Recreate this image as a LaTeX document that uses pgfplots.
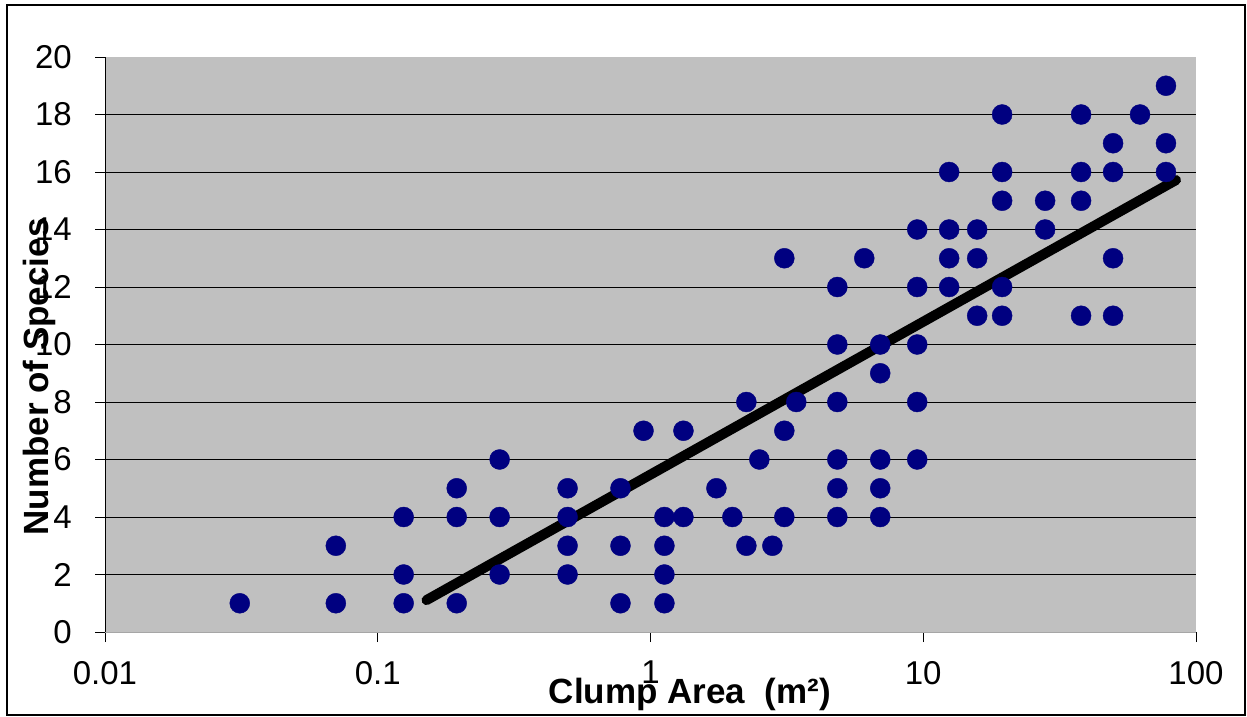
\documentclass[border=0pt]{standalone}
\usepackage{pgfplots}
\pgfplotsset{compat=1.18}
\usepackage{fontspec}
\setmainfont{Liberation Sans}
\definecolor{plotgray}{HTML}{C0C0C0}
\definecolor{navy}{HTML}{000080}
\begin{document}
\begin{tikzpicture}
\useasboundingbox (0,0) rectangle (1247pt,716pt);
\draw[line width=1.2pt] (7pt,1pt) rectangle (1245pt,711pt);
\begin{axis}[
  at={(105pt,84pt)}, anchor=south west,
  scale only axis, width=1091pt, height=575pt,
  xmode=log, log basis x=10,
  xmin=0.01, xmax=100, ymin=0, ymax=20,
  axis background/.style={fill=plotgray},
  axis x line=bottom, axis y line=left,
  axis line style={-},
  x axis line style={draw=gray!70, line width=1pt},
  y axis line style={draw=black, line width=0.9pt},
  tick align=outside,
  major tick length=10pt,
  tick style={black, line width=0.9pt},
  xminorticks=false,
  xtick={0.01,0.1,1,10,100},
  xticklabels={0.01,0.1,1,10,100},
  ytick={0,2,4,6,8,10,12,14,16,18},
  yticklabels={0,2,4,6,8,10,12,14,16,18},
  extra y ticks={20}, extra y tick labels={20},
  extra y tick style={grid=none},
  ymajorgrids,
  grid style={black, line width=0.8pt},
  ticklabel style={font=\fontsize{33}{38}\selectfont},
  xticklabel style={anchor=north, inner sep=0pt, yshift=-19pt},
  yticklabel style={anchor=east, inner sep=0pt},
  yticklabel shift=23pt,
  xlabel={Clump Area\ \ (m²)},
  ylabel={Number of Species},
  xlabel style={font=\fontsize{35}{40}\selectfont\bfseries, at={(axis description cs:0.536,-0.108)}, anchor=center},
  ylabel style={font=\fontsize{35}{40}\selectfont\bfseries, at={(axis description cs:-0.0605,0.4435)}, anchor=center},
  clip=false,
]
\addplot[only marks, mark=*, mark size=10pt, mark options={fill=navy, draw=navy}] coordinates {
(0.0312,1)
(0.0702,3) (0.0702,1)
(0.1245,4) (0.1245,2) (0.1245,1)
(0.1948,5) (0.1948,4) (0.1948,1)
(0.2798,6) (0.2798,4) (0.2798,2)
(0.4966,5) (0.4966,4) (0.4966,3) (0.4966,2)
(0.7764,5) (0.7764,3) (0.7764,1)
(0.9428,7)
(1.125,4) (1.125,3) (1.125,2) (1.125,1)
(1.321,7) (1.321,4)
(1.745,5)
(1.997,4)
(2.247,8) (2.247,3)
(2.507,6)
(2.799,3)
(3.096,13) (3.096,7) (3.096,4)
(3.425,8)
(4.842,12) (4.842,10) (4.842,8) (4.842,6) (4.842,5) (4.842,4)
(6.080,13)
(6.958,10) (6.958,9) (6.958,6) (6.958,5) (6.958,4)
(9.506,14) (9.506,12) (9.506,10) (9.506,8) (9.506,6)
(12.45,16) (12.45,14) (12.45,13) (12.45,12)
(15.77,14) (15.77,13) (15.77,11)
(19.47,18) (19.47,16) (19.47,15) (19.47,12) (19.47,11)
(27.99,15) (27.99,14)
(37.92,18) (37.92,16) (37.92,15) (37.92,11)
(49.66,17) (49.66,16) (49.66,13) (49.66,11)
(62.36,18)
(77.65,19) (77.65,17) (77.65,16)
};
\addplot[black, line width=10pt, line cap=round] coordinates {(0.151,1.11) (84.5,15.72)};
\end{axis}
\end{tikzpicture}
\end{document}
